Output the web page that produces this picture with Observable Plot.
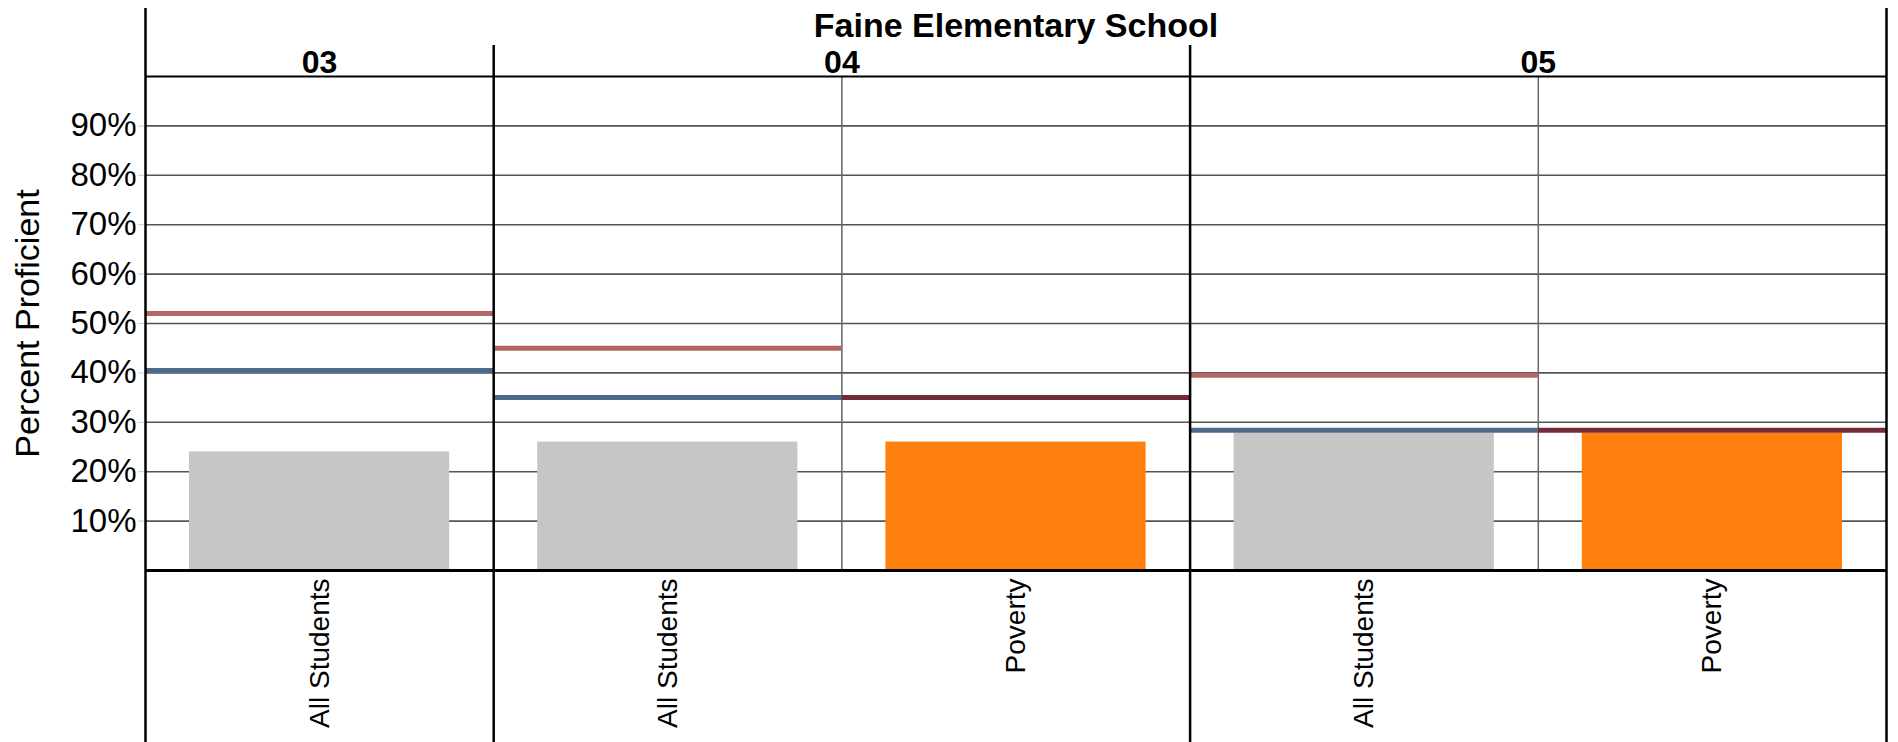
<!DOCTYPE html>
<html>
<head>
<meta charset="utf-8">
<script src="https://cdn.jsdelivr.net/npm/d3@7"></script>
<script src="https://cdn.jsdelivr.net/npm/@observablehq/plot@0.6"></script>
<style>
  html, body { margin: 0; padding: 0; background: #fff; }
  svg { display: block; }
</style>
</head>
<body>
<div id="chart"></div>
<script>
// ---- data ----
const title = "Faine Elementary School";
const grades = ["03", "04", "04", "05", "05"];
const groups = ["All Students", "All Students", "Poverty", "All Students", "Poverty"];
const barValues = [24, 26, 26, 27.8, 27.8];
const barColors = ["#c6c6c6", "#c6c6c6", "#ff7f0e", "#c6c6c6", "#ff7f0e"];
// reference lines per slot
const lineUpper = [52, 45, null, 39.5, null];      // red line (All Students)
const lineLower = [40.5, 35, 35, 28.4, 28.4];      // blue (All) / dark red (Poverty)
const lineColorUpper = "#b56564";
const lineColorAll = "#4b6a8c";
const lineColorPoverty = "#722b38";
const yTicks = [10, 20, 30, 40, 50, 60, 70, 80, 90];
const yLabel = "Percent Proficient";

// ---- derived tables ----
const slots = grades.map((g, i) => ({i, grade: g, group: groups[i], value: barValues[i], color: barColors[i]}));
const upper = slots.filter((d, i) => lineUpper[i] != null).map(d => ({...d, y: lineUpper[d.i]}));
const lower = slots.map(d => ({...d, y: lineLower[d.i], c: d.group === "Poverty" ? lineColorPoverty : lineColorAll}));
const gradeNames = Array.from(new Set(grades));
const gradeSpans = gradeNames.map(g => {
  const idx = grades.map((x, i) => x === g ? i : -1).filter(i => i >= 0);
  return {grade: g, start: d3.min(idx), end: d3.max(idx) + 1};
});
const gradeBounds = [0, ...gradeSpans.map(s => s.end)];
const innerBounds = d3.range(1, grades.length).filter(b => !gradeBounds.includes(b));

const font = "Arial, 'Liberation Sans', sans-serif";

const chart = Plot.plot({
  width: 1898,
  height: 742,
  marginLeft: 145,
  marginRight: 12,
  marginTop: 76,
  marginBottom: 172,
  style: {fontFamily: font, background: "#fff", overflow: "visible"},
  x: {type: "linear", domain: [0, grades.length], axis: null},
  y: {domain: [0, 100], axis: null},
  marks: [
    // horizontal grid
    Plot.ruleY(yTicks, {stroke: "#555", strokeWidth: 1.6}),
    // y tick stubs
    Plot.ruleY(yTicks, {x1: 0, x2: 0, insetLeft: -7, stroke: "#ccc", strokeWidth: 1}),
    // inner dividers (gray)
    Plot.ruleX(innerBounds, {stroke: "#666", strokeWidth: 1.5}),
    // bars
    Plot.rectY(slots, {x1: "i", x2: d => d.i + 1, y: "value", fill: "color", insetLeft: 44, insetRight: 44}),
    // reference lines
    Plot.ruleY(upper, {y: "y", x1: "i", x2: d => d.i + 1, stroke: lineColorUpper, strokeWidth: 5}),
    Plot.ruleY(lower, {y: "y", x1: "i", x2: d => d.i + 1, stroke: "c", strokeWidth: 5}),
    // top line and baseline
    Plot.ruleY([100], {stroke: "#000", strokeWidth: 2}),
    Plot.ruleY([0], {stroke: "#000", strokeWidth: 3}),
    // facet boundaries
    Plot.ruleX(gradeBounds.filter(b => b > 0 && b < grades.length), {stroke: "#000", strokeWidth: 2.5, insetTop: -31, insetBottom: -172}),
    Plot.ruleX([0, grades.length], {stroke: "#000", strokeWidth: 2.5, insetTop: -68, insetBottom: -172}),
    // y tick labels
    Plot.text(yTicks, {y: d => d, frameAnchor: "left", dx: -9, text: d => d + "%", textAnchor: "end", lineAnchor: "middle", fontSize: 33, fill: "#000"}),
    // y label
    Plot.text([yLabel], {frameAnchor: "left", dx: -117, rotate: -90, textAnchor: "middle", lineAnchor: "middle", fontSize: 34, fill: "#000"}),
    // title
    Plot.text([title], {x: grades.length / 2, frameAnchor: "top", dy: -40, lineAnchor: "bottom", fontSize: 34, fontWeight: "bold", fill: "#000"}),
    // grade labels
    Plot.text(gradeSpans, {x: d => (d.start + d.end) / 2, text: "grade", frameAnchor: "top", dy: -4, lineAnchor: "bottom", fontSize: 32, fontWeight: "bold", fill: "#000"}),
    // group labels
    Plot.text(slots, {x: d => d.i + 0.5, text: "group", frameAnchor: "bottom", dy: 8, rotate: -90, textAnchor: "end", lineAnchor: "middle", fontSize: 28, fill: "#000"})
  ]
});
document.getElementById("chart").appendChild(chart);
</script>
</body>
</html>
